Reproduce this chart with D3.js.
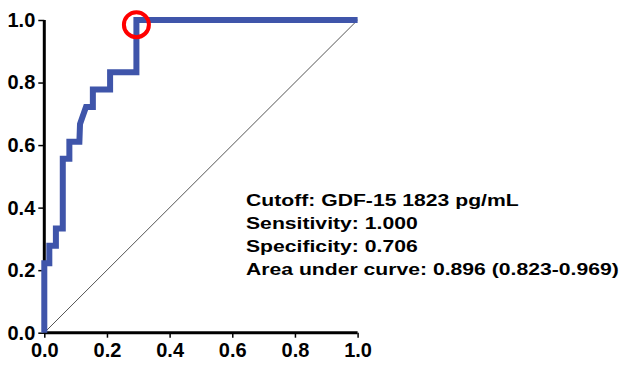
<!DOCTYPE html>
<html>
<head>
<meta charset="utf-8">
<script src="https://cdn.jsdelivr.net/npm/d3@7"></script>
<style>
  body { margin: 0; background: #fff; }
  svg { display: block; }
  text { font-family: "Liberation Sans", Arial, sans-serif; font-weight: bold; }
</style>
</head>
<body>
<div id="chart"></div>
<script>
// ROC curve points (1 - specificity, sensitivity)
const fpr = [0, 0, 0.016, 0.016, 0.037, 0.037, 0.059, 0.059, 0.080, 0.080, 0.112, 0.114, 0.133, 0.155, 0.155, 0.210, 0.210, 0.294, 0.294, 1.0];
const tpr = [0, 0.222, 0.222, 0.278, 0.278, 0.333, 0.333, 0.556, 0.556, 0.611, 0.611, 0.667, 0.722, 0.722, 0.778, 0.778, 0.833, 0.833, 1.0, 1.0];
const cutoffPoint = [0.294, 0.985];
const tickValues = [0, 0.2, 0.4, 0.6, 0.8, 1.0];
const notes = [
  "Cutoff: GDF-15 1823 pg/mL",
  "Sensitivity: 1.000",
  "Specificity: 0.706",
  "Area under curve: 0.896 (0.823-0.969)"
];

const width = 622, height = 367;
const margin = { left: 44.3, right: 264.4, top: 20, bottom: 34.3 };

const svg = d3.select("#chart").append("svg")
  .attr("width", width)
  .attr("height", height);

const x = d3.scaleLinear().domain([0, 1]).range([margin.left, width - margin.right]);
const y = d3.scaleLinear().domain([0, 1]).range([height - margin.bottom, margin.top]);

// reference diagonal
svg.append("line")
  .attr("x1", x(0)).attr("y1", y(0))
  .attr("x2", x(1)).attr("y2", y(1))
  .attr("stroke", "#555")
  .attr("stroke-width", 1);

// axes
const xAxis = svg.append("g")
  .attr("transform", `translate(0,${y(0)})`)
  .call(d3.axisBottom(x).tickValues(tickValues).tickFormat(d3.format(".1f")).tickSize(5).tickPadding(5));
const yAxis = svg.append("g")
  .attr("transform", `translate(${x(0)},0)`)
  .call(d3.axisLeft(y).tickValues(tickValues).tickFormat(d3.format(".1f")).tickSize(6).tickPadding(3));

[xAxis, yAxis].forEach(g => {
  g.select(".domain").attr("stroke", "#000").attr("stroke-width", 3);
  g.selectAll(".tick line").attr("stroke", "#000").attr("stroke-width", 1.5);
  g.selectAll(".tick text")
    .attr("fill", "#000")
    .style("font-size", "20px")
    .style("font-family", "'Liberation Sans', Arial, sans-serif")
    .style("font-weight", "bold");
});
xAxis.selectAll(".domain").attr("d", `M${x(0)},0H${x(1)}`);
yAxis.selectAll(".domain").attr("d", `M0,${y(0)}V${y(1)}`);

// ROC curve
const line = d3.line()
  .x(d => x(d[0]))
  .y(d => y(d[1]));

svg.append("path")
  .datum(d3.zip(fpr, tpr))
  .attr("d", line)
  .attr("fill", "none")
  .attr("stroke", "#3f55aa")
  .attr("stroke-width", 6)
  .attr("stroke-linejoin", "miter");

// cutoff marker
svg.append("circle")
  .attr("cx", x(cutoffPoint[0]))
  .attr("cy", y(cutoffPoint[1]))
  .attr("r", 12.5)
  .attr("fill", "none")
  .attr("stroke", "#f00")
  .attr("stroke-width", 4);

// annotation (the original type is set a bit wide)
svg.append("g")
  .attr("transform", "translate(246,0) scale(1.245,1)")
  .selectAll("text")
  .data(notes)
  .enter()
  .append("text")
  .attr("x", 0)
  .attr("y", (d, i) => 206.5 + i * 23)
  .style("font-size", "17px")
  .attr("fill", "#000")
  .text(d => d);
</script>
</body>
</html>
